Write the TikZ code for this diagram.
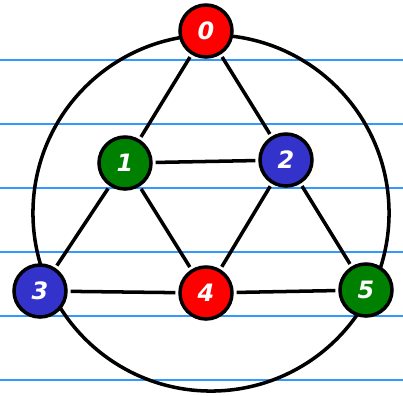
\documentclass[tikz,border=0pt]{standalone}
\usepackage{fontspec}
\setsansfont{DejaVu Sans}
\usepackage{tikz}
\usetikzlibrary{positioning}
\definecolor{rule}{HTML}{3399FF}
\definecolor{vred}{HTML}{FF0000}
\definecolor{vgreen}{HTML}{008000}
\definecolor{vblue}{HTML}{3333CC}

\begin{document}
\begin{tikzpicture}[
  x=0.025cm,y=-0.025cm,
  vtx/.style={circle,draw=black,line width=2.5pt,minimum size=1.3cm,inner sep=0pt,
    text=white,font=\sffamily\bfseries\itshape\fontsize{17}{17}\selectfont},
  edge/.style={line width=2.5pt,shorten <=2pt,shorten >=2pt}
]
  \useasboundingbox (0,0) rectangle (403,396);
  % ruled paper
  \foreach \y in {60,124,188,252,316,380}
    \draw[rule,line width=1.2pt] (0,\y) -- (403,\y);
  \draw[line width=2.5pt] (211,213) circle[radius=4.45cm];
  \node[vtx,fill=vred]   (n0) at (206,31)  {0};
  \node[vtx,fill=vgreen] (n1) at (125,163) {1};
  \node[vtx,fill=vblue]  (n2) at (286,160) {2};
  \node[vtx,fill=vblue]  (n3) at (40,291)  {3};
  \node[vtx,fill=vred]   (n4) at (206,293) {4};
  \node[vtx,fill=vgreen] (n5) at (366,290) {5};
  \draw[edge] (n0) -- (n1);
  \draw[edge] (n0) -- (n2);
  \draw[edge] (n1) -- (n2);
  \draw[edge] (n1) -- (n3);
  \draw[edge] (n1) -- (n4);
  \draw[edge] (n2) -- (n4);
  \draw[edge] (n2) -- (n5);
  \draw[edge] (n3) -- (n4);
  \draw[edge] (n4) -- (n5);
\end{tikzpicture}
\end{document}
